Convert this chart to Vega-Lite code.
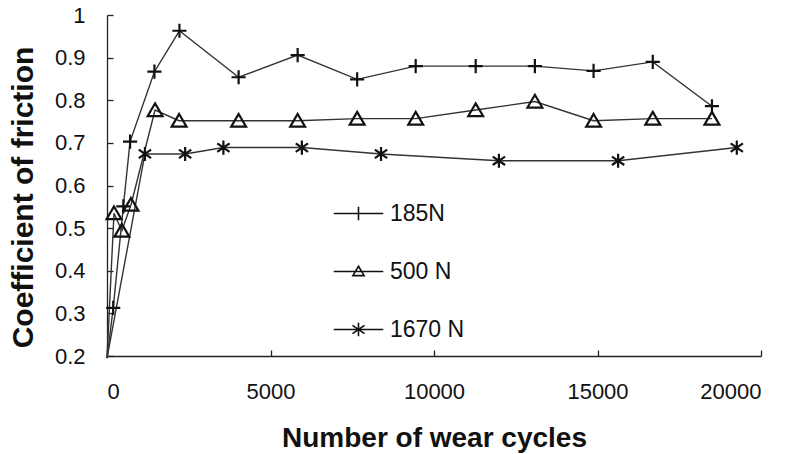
{
  "$schema": "https://vega.github.io/schema/vega-lite/v6.json",
  "width": 654,
  "height": 341,
  "autosize": "none",
  "padding": {"left": 107, "top": 15, "right": 38, "bottom": 98},
  "background": "white",
  "config": {
    "view": {"stroke": null},
    "font": "Liberation Sans",
    "axis": {
      "grid": false,
      "domainColor": "#222",
      "domainWidth": 1.3,
      "tickColor": "#222",
      "tickWidth": 1.3,
      "tickSize": -6,
      "labelFont": "Liberation Sans",
      "labelFontSize": 22,
      "labelColor": "#111",
      "titleFont": "Liberation Sans",
      "titleFontWeight": "bold",
      "titleColor": "#111"
    }
  },
  "data": {
    "values": [
      {"series": "185N", "cycles": 0, "cof": 0.195},
      {"series": "185N", "cycles": 190, "cof": 0.313},
      {"series": "185N", "cycles": 500, "cof": 0.551},
      {"series": "185N", "cycles": 705, "cof": 0.703},
      {"series": "185N", "cycles": 1450, "cof": 0.867},
      {"series": "185N", "cycles": 2215, "cof": 0.963},
      {"series": "185N", "cycles": 4025, "cof": 0.854},
      {"series": "185N", "cycles": 5830, "cof": 0.906},
      {"series": "185N", "cycles": 7650, "cof": 0.849},
      {"series": "185N", "cycles": 9440, "cof": 0.88},
      {"series": "185N", "cycles": 11275, "cof": 0.88},
      {"series": "185N", "cycles": 13085, "cof": 0.88},
      {"series": "185N", "cycles": 14880, "cof": 0.869},
      {"series": "185N", "cycles": 16690, "cof": 0.89},
      {"series": "185N", "cycles": 18500, "cof": 0.786},
      {"series": "500 N", "cycles": 0, "cof": 0.195},
      {"series": "500 N", "cycles": 214, "cof": 0.535},
      {"series": "500 N", "cycles": 455, "cof": 0.494},
      {"series": "500 N", "cycles": 734, "cof": 0.555},
      {"series": "500 N", "cycles": 1470, "cof": 0.777},
      {"series": "500 N", "cycles": 2205, "cof": 0.752},
      {"series": "500 N", "cycles": 4025, "cof": 0.752},
      {"series": "500 N", "cycles": 5830, "cof": 0.752},
      {"series": "500 N", "cycles": 7650, "cof": 0.757},
      {"series": "500 N", "cycles": 9440, "cof": 0.757},
      {"series": "500 N", "cycles": 11275, "cof": 0.777},
      {"series": "500 N", "cycles": 13085, "cof": 0.797},
      {"series": "500 N", "cycles": 14880, "cof": 0.752},
      {"series": "500 N", "cycles": 16690, "cof": 0.757},
      {"series": "500 N", "cycles": 18500, "cof": 0.757},
      {"series": "1670 N", "cycles": 0, "cof": 0.195},
      {"series": "1670 N", "cycles": 1160, "cof": 0.674},
      {"series": "1670 N", "cycles": 2390, "cof": 0.674},
      {"series": "1670 N", "cycles": 3560, "cof": 0.689},
      {"series": "1670 N", "cycles": 5960, "cof": 0.689},
      {"series": "1670 N", "cycles": 8380, "cof": 0.674},
      {"series": "1670 N", "cycles": 11985, "cof": 0.658},
      {"series": "1670 N", "cycles": 15630, "cof": 0.658},
      {"series": "1670 N", "cycles": 19260, "cof": 0.689}
    ]
  },
  "encoding": {
    "x": {
      "field": "cycles",
      "type": "quantitative",
      "scale": {"domain": [0, 20000], "nice": false, "zero": false},
      "axis": {
        "title": "Number of wear cycles",
        "titleFontSize": 28,
        "values": [0, 5000, 10000, 15000, 20000],
        "format": "d",
        "labelPadding": 31,
        "titlePadding": 22
      }
    },
    "y": {
      "field": "cof",
      "type": "quantitative",
      "scale": {"domain": [0.2, 1], "nice": false, "zero": false},
      "axis": {
        "title": "Coefficient of friction",
        "titleFontSize": 30,
        "titleY": 182,
        "values": [0.2, 0.3, 0.4, 0.5, 0.6, 0.7, 0.8, 0.9, 1],
        "format": "~g",
        "labelPadding": 28,
        "titlePadding": 16
      }
    }
  },
  "layer": [
    {
      "mark": {"type": "line", "color": "#333", "strokeWidth": 1.4},
      "encoding": {"detail": {"field": "series"}}
    },
    {
      "transform": [{"filter": "datum.cycles > 0"}],
      "mark": {"type": "point", "filled": false, "stroke": "#111", "strokeWidth": 2.2, "size": 200, "opacity": 1},
      "encoding": {
        "shape": {
          "field": "series",
          "type": "nominal",
          "scale": {
            "domain": ["185N", "500 N", "1670 N"],
            "range": [
              "M-1,0L1,0M0,-1L0,1",
              "M0,-0.95L1.05,0.85L-1.05,0.85Z",
              "M0,-1L0,1M-0.87,-0.6L0.87,0.6M-0.87,0.6L0.87,-0.6"
            ]
          },
          "legend": null
        }
      }
    },
    {
      "description": "Invisible copy of the points that carries the key: each key symbol is a line with the series marker on it.",
      "transform": [{"filter": "datum.cycles > 0"}],
      "mark": {"type": "point", "filled": false, "stroke": "#111", "strokeWidth": 1.6, "size": 225, "opacity": 0},
      "encoding": {
        "shape": {
          "field": "series",
          "type": "nominal",
          "scale": {
            "domain": ["185N", "500 N", "1670 N"],
            "range": [
              "M-3.3,0L3.3,0M-0.9,0L0.9,0M0,-0.9L0,0.9",
              "M-3.3,0L3.3,0M0,-0.7L0.75,0.55L-0.75,0.55Z",
              "M-3.3,0L3.3,0M0,-0.9L0,0.9M-0.8,-0.55L0.8,0.55M-0.8,0.55L0.8,-0.55"
            ]
          },
          "legend": {
            "title": null,
            "orient": "none",
            "legendX": 240,
            "legendY": 187,
            "padding": 0,
            "symbolSize": 225,
            "symbolOpacity": 1,
            "symbolStrokeWidth": 1.6,
            "symbolStrokeColor": "#111",
            "symbolFillColor": "transparent",
            "labelFontSize": 23,
            "labelFont": "Liberation Sans",
            "labelColor": "#111",
            "labelOffset": 20,
            "rowPadding": 34
          }
        }
      }
    }
  ],
  "resolve": {"scale": {"shape": "independent"}, "legend": {"shape": "independent"}}
}
